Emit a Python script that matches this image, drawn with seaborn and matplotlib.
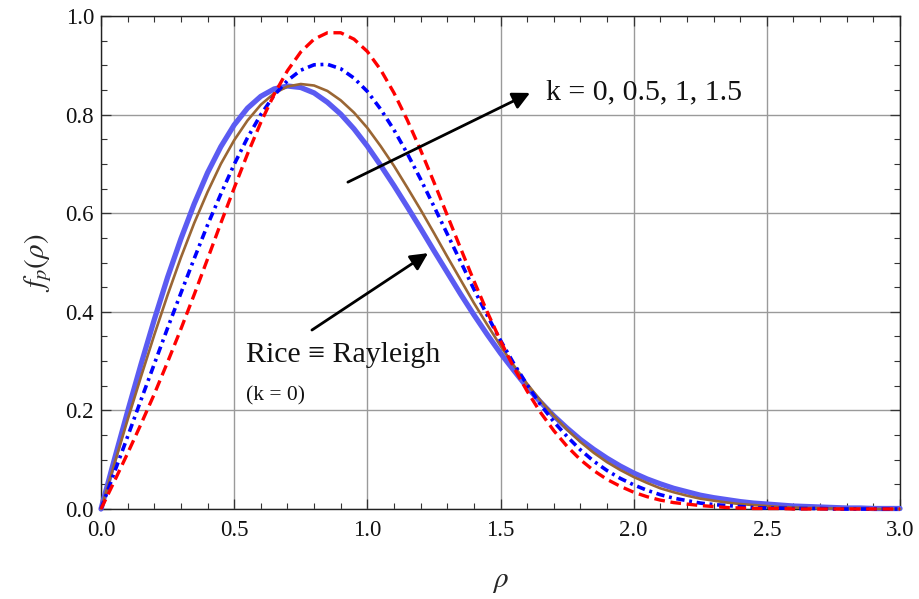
import numpy as np
import pandas as pd
import matplotlib
matplotlib.use("Agg")
import matplotlib.pyplot as plt
from matplotlib.ticker import MultipleLocator, FormatStrFormatter
import seaborn as sns

# rho grid (step 0.05) and curve values
rho = [round(0.05 * i, 2) for i in range(61)]

k_values = ["0", "0.5", "1", "1.5"]

f_k0 = [0.000, 0.100, 0.198, 0.293, 0.384, 0.470, 0.548, 0.619, 0.682, 0.735,
        0.779, 0.813, 0.837, 0.852, 0.858, 0.855, 0.844, 0.825, 0.801, 0.771,
        0.736, 0.697, 0.656, 0.613, 0.569, 0.524, 0.480, 0.436, 0.394, 0.354,
        0.316, 0.281, 0.247, 0.217, 0.189, 0.164, 0.141, 0.121, 0.103, 0.087,
        0.073, 0.061, 0.051, 0.042, 0.035, 0.028, 0.023, 0.019, 0.015, 0.012,
        0.010, 0.008, 0.006, 0.005, 0.004, 0.003, 0.002, 0.002, 0.001, 0.001,
        0.001]
f_k05 = [0.000, 0.091, 0.181, 0.268, 0.353, 0.434, 0.510, 0.580, 0.643, 0.700,
         0.748, 0.788, 0.820, 0.843, 0.857, 0.862, 0.859, 0.848, 0.829, 0.804,
         0.773, 0.736, 0.696, 0.652, 0.607, 0.560, 0.512, 0.465, 0.418, 0.374,
         0.331, 0.291, 0.254, 0.220, 0.189, 0.161, 0.136, 0.114, 0.095, 0.079,
         0.065, 0.053, 0.042, 0.034, 0.027, 0.021, 0.017, 0.013, 0.010, 0.008,
         0.006, 0.004, 0.003, 0.002, 0.002, 0.001, 0.001, 0.001, 0.000, 0.000,
         0.000]
f_k1 = [0.000, 0.074, 0.147, 0.221, 0.294, 0.367, 0.438, 0.508, 0.576, 0.639,
        0.699, 0.753, 0.800, 0.839, 0.869, 0.890, 0.901, 0.902, 0.893, 0.874,
        0.847, 0.811, 0.769, 0.721, 0.669, 0.614, 0.558, 0.502, 0.446, 0.393,
        0.342, 0.295, 0.252, 0.212, 0.177, 0.147, 0.120, 0.097, 0.078, 0.062,
        0.049, 0.038, 0.029, 0.022, 0.017, 0.012, 0.009, 0.007, 0.005, 0.003,
        0.002, 0.002, 0.001, 0.001, 0.001, 0.000, 0.000, 0.000, 0.000, 0.000,
        0.000]
f_k15 = [0.000, 0.056, 0.113, 0.172, 0.233, 0.298, 0.365, 0.435, 0.507, 0.580,
         0.651, 0.720, 0.784, 0.841, 0.889, 0.927, 0.953, 0.966, 0.966, 0.953,
         0.928, 0.891, 0.844, 0.789, 0.728, 0.663, 0.596, 0.529, 0.463, 0.400,
         0.341, 0.287, 0.239, 0.196, 0.159, 0.127, 0.100, 0.078, 0.060, 0.046,
         0.034, 0.025, 0.018, 0.013, 0.010, 0.007, 0.005, 0.003, 0.002, 0.001,
         0.001, 0.001, 0.000, 0.000, 0.000, 0.000, 0.000, 0.000, 0.000, 0.000,
         0.000]

x_ticks = [0.0, 0.5, 1.0, 1.5, 2.0, 2.5, 3.0]
y_ticks = [0.0, 0.2, 0.4, 0.6, 0.8, 1.0]

sns.set_style("ticks")
plt.rcParams["font.family"] = ["Liberation Serif", "DejaVu Serif"]
plt.rcParams["mathtext.fontset"] = "stix"

df = pd.DataFrame({
    "rho": rho * 4,
    "f": f_k0 + f_k05 + f_k1 + f_k15,
    "k": sum([[k] * len(rho) for k in k_values], []),
})

styles = {
    "0":   dict(color="#5B5BF2", lw=3.8, ls="-"),
    "0.5": dict(color="#9A6634", lw=1.9, ls="-"),
    "1":   dict(color="#0000FF", lw=2.6, ls=(0, (2.3, 1.3, 0.8, 1.3))),
    "1.5": dict(color="#FF0000", lw=2.4, ls=(0, (3.2, 1.7))),
}

fig = plt.figure(figsize=(9.19, 5.99), dpi=100)
ax = fig.add_axes([101 / 919, 1 - 509 / 599, 799 / 919, 493 / 599])

for k in k_values:
    sub = df[df["k"] == k]
    st = styles[k]
    sns.lineplot(data=sub, x="rho", y="f", ax=ax, color=st["color"],
                 linewidth=st["lw"], estimator=None, sort=False)
    ln = ax.lines[-1]
    ln.set_linestyle(st["ls"])
    ln.set_clip_on(False)
    ln.set_zorder(3)
    ln.set_solid_joinstyle("round")
    ln.set_dash_joinstyle("round")

ax.set_xlim(0, 3)
ax.set_ylim(0, 1)
ax.xaxis.set_minor_locator(MultipleLocator(0.1))
ax.yaxis.set_minor_locator(MultipleLocator(0.05))
ax.set_xticks(x_ticks)
ax.set_yticks(y_ticks)
ax.xaxis.set_major_formatter(FormatStrFormatter("%.1f"))
ax.yaxis.set_major_formatter(FormatStrFormatter("%.1f"))
ax.tick_params(which="both", direction="in", top=True, right=True,
               color="#333333", labelsize=16.5, labelcolor="#111111")
ax.tick_params(which="major", length=7, width=0.9)
ax.tick_params(which="minor", length=4, width=0.8)
ax.tick_params(axis="x", which="major", pad=8)
ax.tick_params(axis="y", which="major", pad=5)
ax.grid(True, which="major", color="#9a9a9a", lw=1.0)
ax.set_axisbelow(True)
for s in ax.spines.values():
    s.set_color("#222222")
    s.set_linewidth(1.0)

ax.set_xlabel(r"$\rho$", fontsize=21, labelpad=20)
ax.set_ylabel(r"$f_p(\rho)$", fontsize=21, labelpad=8)

arrow = dict(arrowstyle="-|>", color="black", lw=2.0, mutation_scale=26,
             shrinkA=0, shrinkB=0)
ax.annotate("", xy=(1.611, 0.844), xytext=(0.927, 0.663), arrowprops=arrow)
ax.annotate("", xy=(1.228, 0.519), xytext=(0.792, 0.363), arrowprops=arrow)
ax.text(1.67, 0.845, "k = 0, 0.5, 1, 1.5", fontsize=21.5, va="center", ha="left",
        color="#111111")
ax.text(0.545, 0.312, "Rice ≡ Rayleigh", fontsize=21.5, va="center", ha="left",
        color="#111111")
ax.text(0.545, 0.230, "(k = 0)", fontsize=15.5, va="center", ha="left",
        color="#111111")

fig.savefig("out.png", dpi=100)
